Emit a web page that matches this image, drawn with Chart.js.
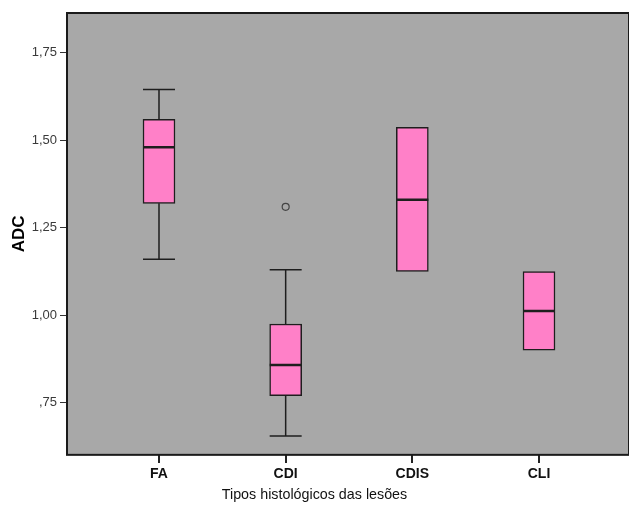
<!DOCTYPE html>
<html>
<head>
<meta charset="utf-8">
<script src="https://cdn.jsdelivr.net/npm/chart.js@4.4.1/dist/chart.umd.min.js"></script>
<style>
  html, body { margin: 0; padding: 0; background: #fff; }
  canvas { display: block; }
</style>
</head>
<body>
<canvas id="box-chart" width="629" height="510"></canvas>
<script>
// box plot data
var categories = ["FA", "CDI", "CDIS", "CLI"];
var whiskerLow = [1.16, 0.655, null, null];
var q1 = [1.32, 0.77, 1.125, 0.90];
var median = [1.48, 0.858, 1.33, 1.012];
var q3 = [1.56, 0.975, 1.537, 1.125];
var whiskerHigh = [1.645, 1.13, null, null];
var outlierCats = ["CDI"];
var outlierValues = [1.31];
var yTicks = [0.75, 1.00, 1.25, 1.50, 1.75];

var BOX_W = 32;
var FONT = "'Liberation Sans', Arial, sans-serif";

var boxes = categories.map(function (c, i) {
	return { x: i + 1, y: [q1[i], q3[i]] };
});
var outliers = outlierCats.map(function (c, i) {
	return { x: categories.indexOf(c) + 1, y: outlierValues[i] };
});

// gray plot background + black frame + category tick marks
var frame = {
	id: 'frame',
	beforeDraw: function (chart) {
		var a = chart.chartArea, ctx = chart.ctx;
		ctx.save();
		ctx.fillStyle = '#a8a8a8';
		ctx.fillRect(a.left, a.top, a.right - a.left, a.bottom - a.top);
		ctx.restore();
	},
	afterDraw: function (chart) {
		var a = chart.chartArea, ctx = chart.ctx, xs = chart.scales.x;
		ctx.save();
		ctx.fillStyle = '#222';
		for (var i = 0; i < categories.length; i++) {
			var px = Math.round(xs.getPixelForValue(i + 1));
			ctx.fillRect(px - 1, Math.round(a.bottom), 2, 8);
		}
		ctx.strokeStyle = '#1a1a1a';
		ctx.lineWidth = 2;
		ctx.strokeRect(a.left, a.top, a.right - a.left, a.bottom - a.top);
		ctx.restore();
	}
};

// whiskers and medians on top of the floating bars
var boxParts = {
	id: 'boxParts',
	afterDatasetsDraw: function (chart) {
		var xs = chart.scales.x, ys = chart.scales.y, ctx = chart.ctx;
		ctx.save();
		ctx.strokeStyle = '#1e1e1e';
		categories.forEach(function (c, i) {
			var cx = xs.getPixelForValue(i + 1);
			var l = cx - BOX_W / 2, r = cx + BOX_W / 2;
			ctx.lineWidth = 1.5;
			if (whiskerHigh[i] !== null) {
				var yt = ys.getPixelForValue(whiskerHigh[i]);
				ctx.beginPath();
				ctx.moveTo(cx, ys.getPixelForValue(q3[i]));
				ctx.lineTo(cx, yt);
				ctx.moveTo(l, yt);
				ctx.lineTo(r, yt);
				ctx.stroke();
			}
			if (whiskerLow[i] !== null) {
				var yb = ys.getPixelForValue(whiskerLow[i]);
				ctx.beginPath();
				ctx.moveTo(cx, ys.getPixelForValue(q1[i]));
				ctx.lineTo(cx, yb);
				ctx.moveTo(l, yb);
				ctx.lineTo(r, yb);
				ctx.stroke();
			}
			var ym = ys.getPixelForValue(median[i]);
			ctx.lineWidth = 2.5;
			ctx.beginPath();
			ctx.moveTo(l, ym);
			ctx.lineTo(r, ym);
			ctx.stroke();
		});
		ctx.restore();
	}
};

new Chart(document.getElementById("box-chart"), {
	type: 'bar',
	data: {
		datasets: [{
			data: boxes,
			backgroundColor: '#ff80c8',
			borderColor: '#1e1e1e',
			borderWidth: 1.5,
			borderSkipped: false,
			barThickness: BOX_W
		}, {
			type: 'scatter',
			data: outliers,
			pointStyle: 'circle',
			pointRadius: 3.5,
			backgroundColor: 'rgba(0,0,0,0)',
			borderColor: '#444',
			borderWidth: 1.2
		}]
	},
	options: {
		responsive: false,
		animation: false,
		layout: { autoPadding: false, padding: { top: 13, right: 0, left: 0, bottom: 0 } },
		plugins: {
			legend: { display: false },
			tooltip: { enabled: false },
			title: {
				display: true,
				position: 'bottom',
				text: 'Tipos histológicos das lesões',
				color: '#111',
				font: { family: FONT, size: 14.3, weight: 'normal', lineHeight: 1.2 },
				padding: { top: 0, bottom: 6 }
			}
		},
		scales: {
			x: {
				type: 'linear',
				offset: false,
				min: 0.2737,
				max: 4.7105,
				afterBuildTicks: function (axis) {
					axis.ticks = categories.map(function (c, i) { return { value: i + 1 }; });
				},
				afterFit: function (axis) {
					axis.height = 32;
					axis.paddingLeft = 0;
					axis.paddingRight = 0;
				},
				ticks: {
					color: '#111',
					padding: 11,
					font: { family: FONT, size: 14, weight: 'bold' },
					callback: function (v) { return categories[v - 1]; }
				},
				grid: { display: false, drawTicks: false },
				border: { display: false }
			},
			y: {
				min: 0.601,
				max: 1.864,
				afterBuildTicks: function (axis) {
					axis.ticks = yTicks.map(function (v) { return { value: v }; });
				},
				afterFit: function (axis) { axis.width = 67; },
				ticks: {
					color: '#3a3a3a',
					padding: 3,
					font: { family: FONT, size: 13 },
					callback: function (v) {
						return v.toFixed(2).replace('.', ',').replace(/^0/, '');
					}
				},
				grid: { drawOnChartArea: false, drawTicks: true, tickLength: 7, color: '#333' },
				border: { display: false },
				title: {
					display: true,
					text: 'ADC',
					color: '#000',
					font: { family: FONT, size: 17, weight: 'bold' },
					padding: { top: 9, bottom: 0 }
				}
			}
		}
	},
	plugins: [frame, boxParts]
});
</script>
</body>
</html>
